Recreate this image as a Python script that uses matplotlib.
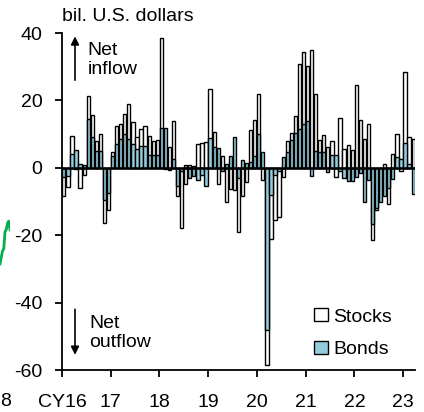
import matplotlib
matplotlib.use("Agg")
import matplotlib.pyplot as plt
from matplotlib.patches import Patch
import numpy as np

plt.rcParams["font.family"] = ["Liberation Sans", "DejaVu Sans"]
plt.rcParams["axes.unicode_minus"] = False

# monthly flows, Jan 2016 .. Mar 2023 (bil. U.S. dollars)
stocks = [
    -8.3, -5.6, 9.5, -0.5, -6.0, -2.0, 21.2, 15.8, 8.0, 10.0, -16.5, -12.5,   # 2016
    4.7, 12.4, 12.9, 15.9, 18.9, 13.6, 9.0, 11.4, 12.4, 9.5, 8.0, 8.3,        # 2017
    38.5, -0.5, 6.2, 13.8, -8.3, -17.9, -4.8, 0.7, 0.5, 7.2, 7.4, 7.7,        # 2018
    23.3, 10.6, -4.8, 3.5, -10.2, -6.3, -6.6, -19.0, -8.3, -4.1, 11.3, 14.3,  # 2019
    22.0, -3.6, -58.5, -21.2, -15.4, -14.5, -2.8, 8.0, 10.4, 15.5, 30.8, 34.3,  # 2020
    30.3, 35.0, 22.0, 8.2, 9.7, 6.2, 7.9, -2.8, 14.9, 5.5, 6.7, 5.4,          # 2021
    24.6, 14.3, 8.4, 13.1, -21.5, -12.5, -7.8, 1.2, -10.7, 4.2, 10.1, -1.0,   # 2022
    28.5, 9.0, 8.4,                                                          # 2023
]
bonds = [
    -2.8, -2.3, 4.0, 5.2, 1.0, 0.8, 14.5, 9.0, 5.0, 5.0, -9.5, -7.5,
    3.5, 7.0, 8.5, 10.0, 8.5, 7.0, 5.5, 6.5, 6.5, 3.8, 3.7, 3.7,
    11.9, 11.9, -0.6, 2.7, -5.5, -1.0, 0.7, -3.0, -2.3, -3.6, -2.0, -5.5,
    8.7, 6.3, 6.0, -1.0, 1.0, 3.4, 9.0, -3.0, 2.4, 1.4, 1.7, 3.5,
    10.0, 4.7, -48.0, -8.0, -2.0, -1.0, 3.2, 4.7, 8.2, 10.4, 11.5, 13.0,
    14.0, -2.3, 5.0, 4.7, 4.7, -1.3, 3.7, 3.7, -1.0, -3.0, -3.8, -3.8,
    -2.8, -1.5, -10.2, -3.5, -16.7, -12.0, -10.2, -8.3, -6.0, -3.3, 3.2, 2.5,
    7.4, 1.0, -7.8,
]
year_labels = ["CY16", "17", "18", "19", "20", "21", "22", "23"]
y_ticks = [-60, -40, -20, 0, 20, 40]

# neighbouring chart fragment visible at the left edge
neighbour_line = [0.0, 0.15, 0.3, 0.35, 0.75, 0.8, 0.95, 1.0, 0.8]

BLUE = "#93cddd"
FS = 14

fig = plt.figure(figsize=(4.24, 4.12), dpi=100)
ax = fig.add_axes([62 / 424, 1 - 370 / 412, 353 / 424, 337 / 412])

x = np.arange(len(stocks)) + 0.45
ax.bar(x, stocks, width=0.8, color="white", edgecolor="black", linewidth=1.0, zorder=2)
ax.bar(x, bonds, width=0.8, color=BLUE, edgecolor="black", linewidth=1.0, zorder=3)
ax.axhline(0, color="black", linewidth=1.8, zorder=4)

ax.set_xlim(0, 86.9)
ax.set_ylim(-60, 40)
ax.set_xticks(np.arange(len(year_labels)) * 12)
ax.set_xticklabels(year_labels)
ax.set_yticks(y_ticks)
ax.set_yticklabels([str(v) for v in y_ticks])
ax.tick_params(axis="both", direction="out", length=5, width=1.3, labelsize=FS)
ax.tick_params(axis="y", pad=9)
ax.tick_params(axis="x", pad=12.5)

for side in ["top", "right"]:
    ax.spines[side].set_visible(False)
for side in ["left", "bottom"]:
    ax.spines[side].set_linewidth(1.3)

# unit label
ax.text(0, 1.025, "bil. U.S. dollars", transform=ax.transAxes,
        ha="left", va="bottom", fontsize=FS)

# direction arrows
ax.annotate("", xy=(3.2, 39), xytext=(3.2, 26),
            arrowprops=dict(arrowstyle="-|>", color="black", lw=1.2,
                            mutation_scale=12, shrinkA=0, shrinkB=0))
ax.text(6.3, 32.0, "Net\ninflow", fontsize=FS, ha="left", va="center",
        linespacing=1.15)
ax.annotate("", xy=(3.2, -55.5), xytext=(3.2, -42),
            arrowprops=dict(arrowstyle="-|>", color="black", lw=1.2,
                            mutation_scale=12, shrinkA=0, shrinkB=0))
ax.text(6.8, -49.0, "Net\noutflow", fontsize=FS, ha="left", va="center",
        linespacing=1.15)

handles = [Patch(facecolor="white", edgecolor="black", linewidth=1.0, label="Stocks"),
           Patch(facecolor=BLUE, edgecolor="black", linewidth=1.0, label="Bonds")]
ax.legend(handles=handles, loc="lower left", bbox_to_anchor=(0.715, 0.035),
          frameon=False, fontsize=FS, handlelength=0.72, handleheight=0.62,
          handletextpad=0.25, labelspacing=0.8, borderpad=0, borderaxespad=0)

# cut-off piece of the neighbouring chart
ax2 = fig.add_axes([0, 1 - 266 / 412, 10 / 424, 47 / 412])
ax2.plot(np.arange(len(neighbour_line)), neighbour_line, color="#00b050", lw=2)
ax2.set_xlim(0, len(neighbour_line) - 1)
ax2.axis("off")
fig.text(0.0, 1 - 402 / 412, "8", fontsize=FS, ha="left", va="center")

fig.savefig("out.png", dpi=100)
